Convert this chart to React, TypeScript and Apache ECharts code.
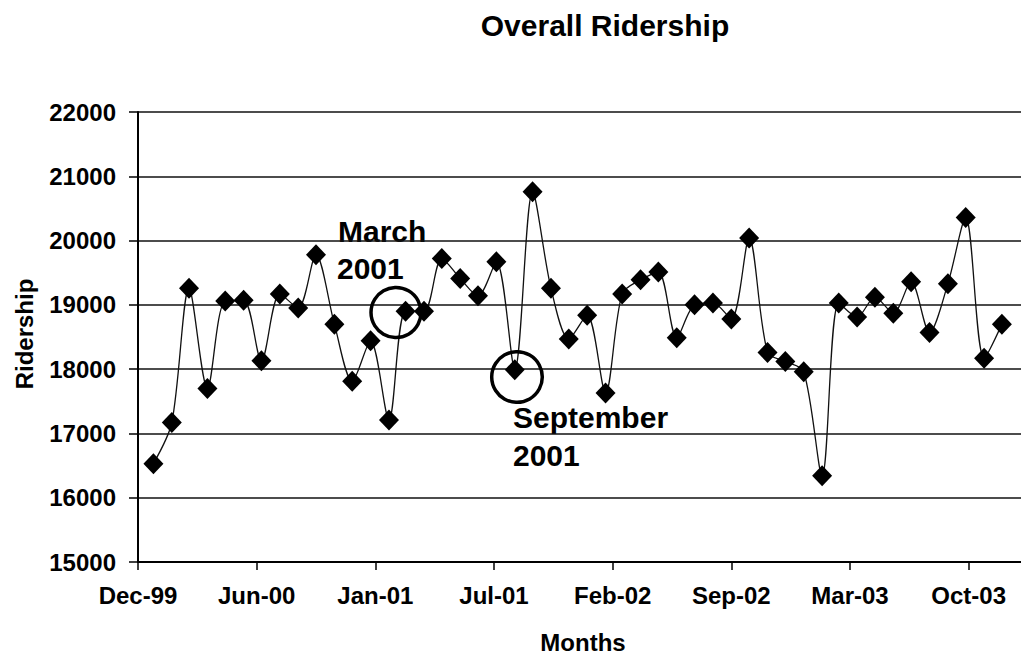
import React, { useEffect, useRef } from "react";
import * as echarts from "echarts";

// Months (first day of each month), Jan 2000 .. Dec 2003
const months: string[] = [
  "2000-01","2000-02","2000-03","2000-04","2000-05","2000-06","2000-07","2000-08","2000-09","2000-10","2000-11","2000-12",
  "2001-01","2001-02","2001-03","2001-04","2001-05","2001-06","2001-07","2001-08","2001-09","2001-10","2001-11","2001-12",
  "2002-01","2002-02","2002-03","2002-04","2002-05","2002-06","2002-07","2002-08","2002-09","2002-10","2002-11","2002-12",
  "2003-01","2003-02","2003-03","2003-04","2003-05","2003-06","2003-07","2003-08","2003-09","2003-10","2003-11","2003-12",
];

const ridership: number[] = [
  16530, 17170, 19260, 17700, 19060, 19070, 18130, 19170, 18950, 19780, 18700, 17810,
  18440, 17210, 18900, 18900, 19720, 19410, 19140, 19670, 17990, 20760, 19260, 18470,
  18840, 17630, 19170, 19390, 19510, 18490, 19000, 19030, 18780, 20040, 18260, 18120,
  17960, 16340, 19030, 18810, 19120, 18870, 19360, 18570, 19330, 20360, 18170, 18700,
];

// x axis: spreadsheet day serials, ticks every 200 days starting at 36500
const xMin = 36500;
const xMax = 38000;
const xInterval = 200;
const xTickLabels: string[] = ["Dec-99","Jun-00","Jan-01","Jul-01","Feb-02","Sep-02","Mar-03","Oct-03","Jan-04"];

const yMin = 15000;
const yMax = 22000;
const yInterval = 1000;

const titleText = "Overall Ridership";
const xAxisTitle = "Months";
const yAxisTitle = "Ridership";
const annotations = [
  { lines: ["March", "2001"] },
  { lines: ["September", "2001"] },
];

function toSerial(ym: string): number {
  const [y, m] = ym.split("-").map(Number);
  return Date.UTC(y, m - 1, 1) / 86400000 + 25569;
}

const FONT = '"Liberation Sans", Arial, Helvetica, sans-serif';

export default function App() {
  const ref = useRef<HTMLDivElement>(null);
  useEffect(() => {
    if (!ref.current) return;
    const chart = echarts.init(ref.current, null, { renderer: "svg" });
    const data = months.map((m, i) => [toSerial(m), ridership[i]]);
    const textStyle = (size: number) => ({
      fontSize: size,
      fontWeight: "bold" as const,
      fontFamily: FONT,
      fill: "#000",
    });
    chart.setOption({
      animation: false,
      backgroundColor: "#fff",
      grid: { left: 138, top: 112, width: 890, height: 450, containLabel: false, outerBoundsMode: "none" },
      xAxis: {
        type: "value",
        min: xMin,
        max: xMax,
        interval: xInterval,
        axisLine: { show: true, lineStyle: { color: "#000", width: 2 } },
        axisTick: { show: true, inside: false, length: 8, lineStyle: { color: "#000", width: 1.5 } },
        splitLine: { show: false },
        axisLabel: {
          showMaxLabel: false,
          margin: 21,
          fontSize: 24,
          fontWeight: "bold",
          fontFamily: FONT,
          color: "#000",
          formatter: (v: number) => xTickLabels[Math.round((v - xMin) / xInterval)] ?? "",
        },
      },
      yAxis: {
        type: "value",
        min: yMin,
        max: yMax,
        interval: yInterval,
        axisLine: { show: true, lineStyle: { color: "#000", width: 2 } },
        axisTick: { show: true, inside: false, length: 9, lineStyle: { color: "#000", width: 1.5 } },
        splitLine: { show: true, lineStyle: { color: "#111", width: 1.6 } },
        axisLabel: {
          margin: 22,
          fontSize: 24,
          fontWeight: "bold",
          fontFamily: FONT,
          color: "#000",
          formatter: (v: number) => String(v),
        },
      },
      series: [
        {
          type: "line",
          data,
          smooth: 0.3,
          symbol: "diamond",
          symbolSize: [20, 21],
          itemStyle: { color: "#000" },
          lineStyle: { color: "#111", width: 1.3 },
        },
      ],
      graphic: [
        { type: "text", x: 605, y: 25, style: { ...textStyle(30), text: titleText, textAlign: "center", textVerticalAlign: "middle" } },
        { type: "text", x: 583, y: 642, style: { ...textStyle(24), text: xAxisTitle, textAlign: "center", textVerticalAlign: "middle" } },
        { type: "text", x: 24, y: 334, rotation: Math.PI / 2, style: { ...textStyle(24), text: yAxisTitle, textAlign: "center", textVerticalAlign: "middle" } },
        { type: "text", x: 338, y: 231, style: { ...textStyle(30), text: annotations[0].lines[0], textAlign: "left", textVerticalAlign: "middle" } },
        { type: "text", x: 337, y: 268, style: { ...textStyle(30), text: annotations[0].lines[1], textAlign: "left", textVerticalAlign: "middle" } },
        { type: "text", x: 513, y: 417, style: { ...textStyle(30), text: annotations[1].lines[0], textAlign: "left", textVerticalAlign: "middle" } },
        { type: "text", x: 513, y: 455, style: { ...textStyle(30), text: annotations[1].lines[1], textAlign: "left", textVerticalAlign: "middle" } },
        { type: "circle", shape: { cx: 396, cy: 312.5, r: 25 }, style: { fill: "none", stroke: "#000", lineWidth: 3.5 }, z: 100 },
        { type: "circle", shape: { cx: 517, cy: 377, r: 25.3 }, style: { fill: "none", stroke: "#000", lineWidth: 3.5 }, z: 100 },
      ],
    });
    return () => chart.dispose();
  }, []);
  return <div ref={ref} style={{ position: "absolute", left: 0, top: 0, width: 1021, height: 658 }} />;
}
